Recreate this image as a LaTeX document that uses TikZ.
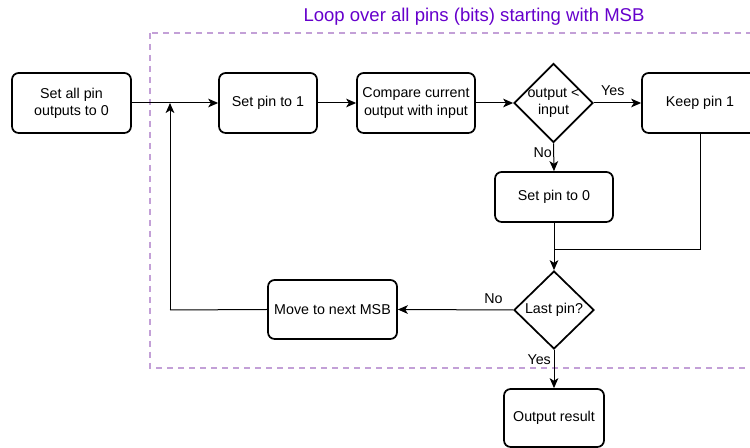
\documentclass[tikz,border=0pt]{standalone}
\usepackage{fontspec}
\setmainfont{Liberation Sans}
\usetikzlibrary{shapes.geometric,arrows.meta}
\definecolor{loopline}{HTML}{C3A0D7}
\definecolor{looptext}{HTML}{6600CC}
\tikzset{
  box/.style={draw=black, line width=1.3pt, rounded corners=5pt, align=center, inner sep=0pt, font=\fontsize{10.7}{13}\selectfont},
  dia/.style={draw=black, line width=1.3pt, diamond, inner sep=0pt},
  conn/.style={line width=0.75pt, -{Stealth[length=7.5pt,width=6.5pt,inset=2pt]}},
  plain/.style={line width=0.75pt},
  lbl/.style={font=\fontsize{10.7}{13}\selectfont, inner sep=0pt},
}
\begin{document}
\begin{tikzpicture}[x=0.75pt,y=-0.75pt]
\clip (0,0) rectangle (750,448);
\fill[white] (0,0) rectangle (750,448);
% loop frame
\draw[loopline, line width=1.5pt, dash pattern=on 4.5pt off 3.75pt] (150,33) rectangle (765,368);
\node[text=looptext, font=\fontsize{13.9}{16}\selectfont, inner sep=0pt] (title) at (474,16.5) {Loop over all pins (bits) starting with MSB};
% nodes
\node[box, minimum width=89.25pt, minimum height=45pt] (all) at (71.5,103) {Set all pin\\outputs to 0};
\node[box, minimum width=73.5pt, minimum height=45pt] (set1) at (268,103) {Set pin to 1};
\node[box, minimum width=88.5pt, minimum height=45pt] (cmp) at (416,103) {Compare current\\output with input};
\node[dia, minimum width=59.25pt, minimum height=59.25pt, label={[lbl,align=center]center:output <\\input}] (dec1) at (553.5,103) {};
\node[box, minimum width=87pt, minimum height=45pt] (keep) at (700,103) {Keep pin 1};
\node[box, minimum width=88.5pt, minimum height=37.5pt] (set0) at (554,197) {Set pin to 0};
\node[dia, minimum width=60pt, minimum height=58.5pt, label={[lbl]center:Last pin?}] (dec2) at (554,310) {};
\node[box, minimum width=96.75pt, minimum height=44.25pt] (move) at (332.5,309.5) {Move to next MSB};
\node[box, minimum width=75pt, minimum height=43.5pt] (out) at (554,418) {Output result};
% junctions
\coordinate (j1) at (170,103);
\coordinate (j2) at (554,250);
\coordinate (k2) at (700,250);
\coordinate (m2) at (170,310);
% connectors
\draw[conn] (all.east) -- (set1.west);
\draw[conn] (set1.east) -- (cmp.west);
\draw[conn] (cmp.east) -- (dec1.west);
\draw[conn] (dec1.east) -- node[lbl, above=5pt, pos=0.4] {Yes} (keep.west);
\draw[conn] (dec1.south) -- node[lbl, left=1pt, pos=0.35] {No} (set0.north);
\draw[plain] (set0.south) -- (j2);
\draw[plain] (keep.south) -- (k2) -- (j2);
\draw[conn] (j2) -- (dec2.north);
\draw[conn] (dec2.west) -- node[lbl, above=4pt, pos=0.17] {No} (move.east);
\draw[plain] (move.west) -- (m2);
\draw[conn] (m2) -- (j1);
\draw[conn] (dec2.south) -- node[lbl, left=2pt, pos=0.25] {Yes} (out.north);
\end{tikzpicture}
\end{document}
